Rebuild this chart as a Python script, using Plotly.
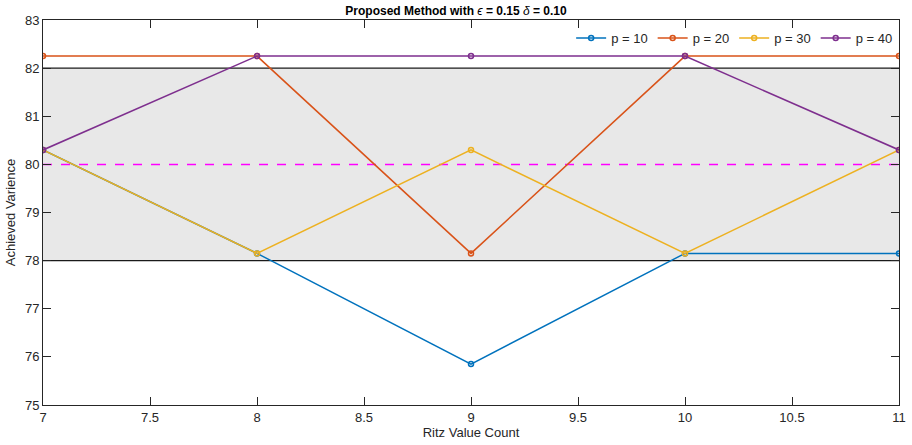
import plotly.graph_objects as go

x = [7, 8, 9, 10, 11]
p10 = [80.3, 78.15, 75.85, 78.15, 78.15]
p20 = [82.25, 82.25, 78.15, 82.25, 82.25]
p30 = [80.3, 78.15, 80.3, 78.15, 80.3]
p40 = [80.3, 82.25, 82.25, 82.25, 80.3]
names = ["p = 10", "p = 20", "p = 30", "p = 40"]
colors = ["#0072BD", "#D95319", "#EDB120", "#7E2F8E"]
band = [78, 82]
target = 80

fig = go.Figure()
for ys, n, c in zip([p10, p20, p30, p40], names, colors):
    fig.add_trace(go.Scatter(x=x, y=ys, name=n, mode="lines+markers",
                             line=dict(color=c, width=1.5),
                             marker=dict(symbol="circle-open", size=5, color=c, line=dict(width=1.5))))

fig.add_shape(type="rect", xref="x", yref="y", x0=7, x1=11, y0=band[0], y1=band[1],
              fillcolor="#e8e8e8", line=dict(width=0), layer="below")
for b in band:
    fig.add_shape(type="line", xref="x", yref="y", x0=7, x1=11, y0=b, y1=b,
                  line=dict(color="#1a1a1a", width=1.3), layer="below")
fig.add_shape(type="line", xref="x", yref="y", x0=7, x1=11, y0=target, y1=target,
              line=dict(color="#FF00FF", width=1.5, dash="dash"), layer="below")

axis_common = dict(showgrid=False, zeroline=False, ticks="inside", ticklen=8, tickwidth=1,
                   tickcolor="#262626", linecolor="#262626", linewidth=1, mirror="allticks",
                   showline=True, automargin=False, tickfont=dict(size=13, color="#262626"))
title_text = ("<b>Proposed Method with </b><i>ϵ</i><b> = 0.15 </b>"
              "<i>δ</i><b> = 0.10</b>")
fig.update_layout(
    width=912, height=445,
    margin=dict(l=43, r=13, t=20, b=40, autoexpand=False),
    paper_bgcolor="white", plot_bgcolor="white",
    font=dict(family="Liberation Sans, Arial, sans-serif", color="#262626"),
    title=dict(text=title_text, x=0.5, xanchor="center",
               y=0.985, yanchor="top", font=dict(size=12, color="black")),
    xaxis=dict(range=[7, 11], dtick=0.5, title=dict(text="Ritz Value Count", font=dict(size=13), standoff=2), **axis_common),
    yaxis=dict(range=[75, 83], dtick=1, title=dict(text="Achieved Varience", font=dict(size=13), standoff=6), **axis_common),
    legend=dict(orientation="h", x=0.999, xanchor="right", y=0.953, yanchor="middle",
                bgcolor="rgba(255,255,255,0)", font=dict(size=13), itemwidth=30,
                tracegroupgap=0),
    showlegend=True,
)
fig.write_html("out.html", config={"displayModeBar": False},
               post_script="document.body.style.margin='0';document.body.style.overflow='hidden';")
